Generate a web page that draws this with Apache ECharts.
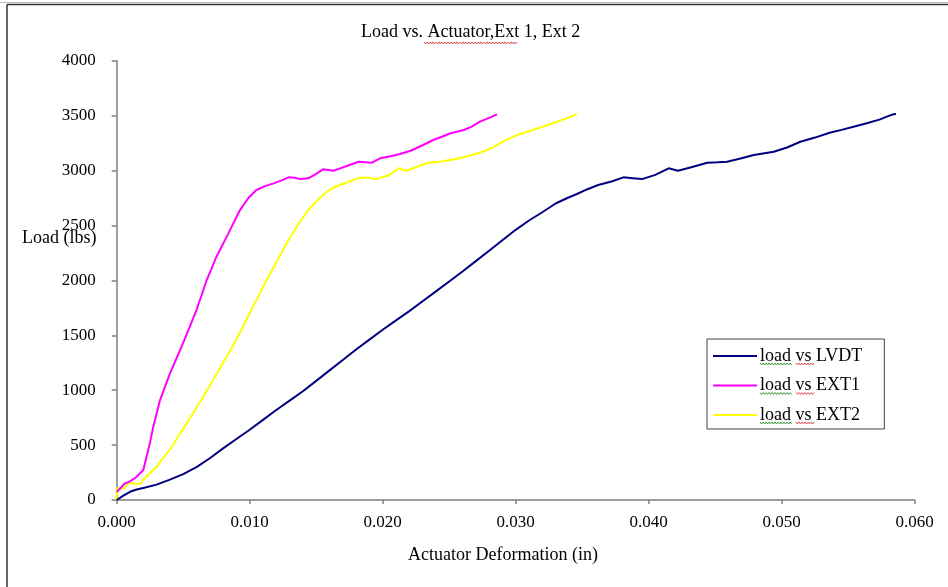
<!DOCTYPE html>
<html>
<head>
<meta charset="utf-8">
<title>Load vs. Actuator, Ext 1, Ext 2</title>
<script src="https://cdn.jsdelivr.net/npm/echarts@6/dist/echarts.min.js"></script>
<style>
  html, body { margin: 0; padding: 0; background: #ffffff; }
  #chart { width: 948px; height: 587px; }
</style>
</head>
<body>
<div id="chart"></div>
<script>
// ---- Measured data: deformation (in) and load (lbs) ----
const lvdtDeformation = [0, 0.0005, 0.001, 0.0015, 0.002, 0.003, 0.004, 0.005, 0.006, 0.007, 0.008, 0.009, 0.010, 0.011, 0.012, 0.013, 0.014, 0.015, 0.016, 0.017, 0.018, 0.019, 0.020, 0.021, 0.022, 0.023, 0.024, 0.025, 0.026, 0.027, 0.028, 0.029, 0.030, 0.031, 0.032, 0.033, 0.0338, 0.0346, 0.0354, 0.0362, 0.0372, 0.0381, 0.0388, 0.0395, 0.0405, 0.0415, 0.0422, 0.0432, 0.0444, 0.0452, 0.0459, 0.0469, 0.0479, 0.0494, 0.0504, 0.0514, 0.0525, 0.0536, 0.0545, 0.0554, 0.0564, 0.0574, 0.0580, 0.0584, 0.0586];
const lvdtLoad = [0, 40, 75, 95, 110, 140, 185, 235, 300, 380, 470, 555, 640, 730, 820, 905, 990, 1085, 1180, 1275, 1370, 1460, 1550, 1635, 1720, 1810, 1900, 1990, 2080, 2175, 2270, 2365, 2460, 2545, 2620, 2700, 2745, 2786, 2830, 2868, 2900, 2938, 2930, 2922, 2960, 3020, 2998, 3030, 3071, 3075, 3080, 3110, 3141, 3171, 3210, 3262, 3300, 3344, 3370, 3399, 3430, 3466, 3495, 3512, 3515];

const ext1Deformation = [0, 0.0003, 0.0006, 0.001, 0.0015, 0.002, 0.0025, 0.00275, 0.00326, 0.004, 0.005, 0.006, 0.00677, 0.0075, 0.0084, 0.00927, 0.0099, 0.0105, 0.0112, 0.0118, 0.0124, 0.0129, 0.0134, 0.0138, 0.0144, 0.0150, 0.0155, 0.0163, 0.0168, 0.0175, 0.0182, 0.0192, 0.0198, 0.0206, 0.0213, 0.0221, 0.0230, 0.0238, 0.0245, 0.0251, 0.0261, 0.0267, 0.0273, 0.0280, 0.0286];
const ext1Load = [76, 110, 150, 170, 212, 273, 520, 668, 910, 1150, 1430, 1730, 2003, 2215, 2428, 2640, 2750, 2823, 2860, 2883, 2910, 2938, 2935, 2922, 2929, 2970, 3011, 2998, 3020, 3050, 3080, 3071, 3111, 3130, 3150, 3180, 3230, 3278, 3310, 3339, 3369, 3400, 3445, 3480, 3512];

const ext2Deformation = [0, 0, 0.0006, 0.0008, 0.001, 0.00175, 0.0021, 0.003, 0.00414, 0.005, 0.006, 0.007, 0.008, 0.009, 0.010, 0.0105, 0.01128, 0.01278, 0.0137, 0.0144, 0.0152, 0.0158, 0.0163, 0.0168, 0.0175, 0.0183, 0.0189, 0.0195, 0.0205, 0.0212, 0.0218, 0.0225, 0.0233, 0.0243, 0.0258, 0.0273, 0.0281, 0.0288, 0.0295, 0.0301, 0.0313, 0.0328, 0.0338, 0.0346];
const ext2Load = [0, 106, 106, 152, 152, 146, 198, 303, 485, 650, 840, 1040, 1250, 1460, 1700, 1820, 2003, 2337, 2519, 2640, 2740, 2807, 2845, 2868, 2900, 2935, 2935, 2922, 2959, 3020, 2998, 3030, 3066, 3080, 3111, 3162, 3200, 3248, 3290, 3323, 3369, 3430, 3475, 3512];

const seriesNames = ['load vs LVDT', 'load vs EXT1', 'load vs EXT2'];
const seriesColors = ['#000080', '#ff00ff', '#ffff00'];

// ---- Axis ranges ----
const xMin = 0, xMax = 0.06, xStep = 0.01;
const yMin = 0, yMax = 4000, yStep = 500;

const zip = (xs, ys) => xs.map((x, i) => [x, ys[i]]);

const FONT = '"Liberation Serif", "Times New Roman", serif';

// Wavy proofing underline drawn beneath a word
function squiggle(x0, x1, y, color) {
  const pts = [];
  let up = true;
  for (let x = x0; x <= x1; x += 1.5) {
    pts.push([x, up ? y - 1 : y + 1]);
    up = !up;
  }
  return { type: 'polyline', shape: { points: pts }, style: { stroke: color, lineWidth: 1, fill: null }, silent: true, z: 10 };
}

const green = '#3a9a3a', red = '#e05050';
const legendRowsY = [364, 393.5, 423];
const graphics = [
  // outer frame edges
  { type: 'line', shape: { x1: 7, y1: 4.5, x2: 948, y2: 4.5 }, style: { stroke: '#333', lineWidth: 1.5 }, silent: true },
  { type: 'line', shape: { x1: 0, y1: 2.5, x2: 948, y2: 2.5 }, style: { stroke: '#bbb', lineWidth: 1 }, silent: true },
  { type: 'line', shape: { x1: 7, y1: 4.5, x2: 7, y2: 587 }, style: { stroke: '#333', lineWidth: 1.5 }, silent: true },
  // axis titles
  { type: 'text', left: 22, top: 229, style: { text: 'Load (lbs)', font: '18px ' + FONT, fill: '#000' }, silent: true },
  { type: 'text', left: 408, top: 546, style: { text: 'Actuator Deformation (in)', font: '18px ' + FONT, fill: '#000' }, silent: true },
  // proofing marks
  squiggle(424, 517, 43, red)
];
legendRowsY.forEach(y => {
  graphics.push(squiggle(760, 792, y, green));
  graphics.push(squiggle(796, 814, y, red));
});

const chart = echarts.init(document.getElementById('chart'), null, { renderer: 'canvas' });
chart.setOption({
  backgroundColor: '#ffffff',
  animation: false,
  title: {
    text: 'Load vs. Actuator,Ext 1, Ext 2',
    left: 361,
    top: 23,
    padding: 0,
    textStyle: { fontFamily: FONT, fontSize: 18, fontWeight: 'normal', color: '#000' }
  },
  grid: { left: 116.7, right: 33.3, top: 60.7, bottom: 87, containLabel: false },
  xAxis: {
    type: 'value',
    min: xMin, max: xMax, interval: xStep,
    axisLine: { lineStyle: { color: '#808080', width: 1.5 } },
    axisTick: { show: true, inside: false, length: 4, lineStyle: { color: '#808080', width: 1.5 } },
    splitLine: { show: false },
    axisLabel: {
      margin: 14,
      fontFamily: FONT, fontSize: 17, color: '#000',
      formatter: v => v.toFixed(3)
    }
  },
  yAxis: {
    type: 'value',
    min: yMin, max: yMax, interval: yStep,
    axisLine: { show: true, lineStyle: { color: '#808080', width: 1.5 } },
    axisTick: { show: true, inside: false, length: 5, lineStyle: { color: '#808080', width: 1.5 } },
    splitLine: { show: false },
    axisLabel: {
      margin: 21,
      fontFamily: FONT, fontSize: 17, color: '#000',
      formatter: v => String(v)
    }
  },
  legend: {
    orient: 'vertical',
    left: 707, top: 339,
    padding: [7, 22, 4, 6],
    itemGap: 9.5,
    itemWidth: 44, itemHeight: 2,
    itemStyle: { borderWidth: 0 },
    icon: 'rect',
    backgroundColor: '#ffffff',
    borderColor: '#444',
    borderWidth: 1,
    borderRadius: 0,
    textStyle: { fontFamily: FONT, fontSize: 18, color: '#000', lineHeight: 20, padding: [0, 0, 0, -2] },
    data: seriesNames
  },
  graphic: graphics,
  series: [
    { name: seriesNames[0], data: zip(lvdtDeformation, lvdtLoad) },
    { name: seriesNames[1], data: zip(ext1Deformation, ext1Load) },
    { name: seriesNames[2], data: zip(ext2Deformation, ext2Load) }
  ].map((s, i) => ({
    type: 'line',
    name: s.name,
    data: s.data,
    showSymbol: false,
    symbol: 'none',
    smooth: false,
    color: seriesColors[i],
    lineStyle: { color: seriesColors[i], width: 2 },
    z: 3 - i
  }))
});
</script>
</body>
</html>
